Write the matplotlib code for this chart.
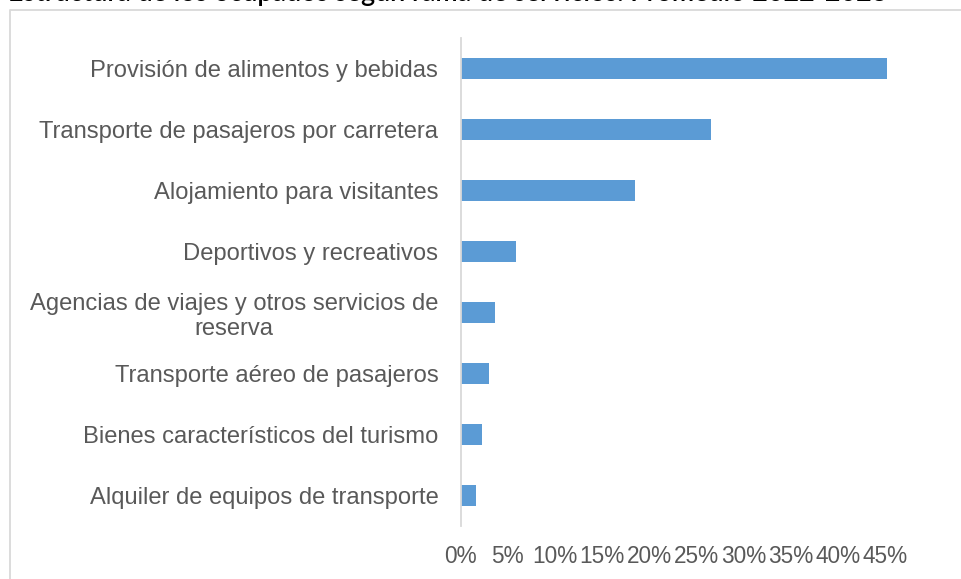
import matplotlib
matplotlib.use("Agg")
import matplotlib.pyplot as plt
from matplotlib.lines import Line2D
from matplotlib.ticker import FuncFormatter

categories = [
    "Provisión de alimentos y bebidas",
    "Transporte de pasajeros por carretera",
    "Alojamiento para visitantes",
    "Deportivos y recreativos",
    "Agencias de viajes y otros servicios de\nreserva",
    "Transporte aéreo de pasajeros",
    "Bienes característicos del turismo",
    "Alquiler de equipos de transporte",
]
values = [0.452, 0.265, 0.185, 0.059, 0.037, 0.030, 0.023, 0.016]
xticks = [0.0, 0.05, 0.10, 0.15, 0.20, 0.25, 0.30, 0.35, 0.40, 0.45]
title = "Estructura de los ocupados según rama de servicios. Promedio 2022-2023"

W, H = 961, 579
fig = plt.figure(figsize=(W / 100, H / 100), dpi=100)
fig.patch.set_facecolor("white")

x0 = 460.5
ppp = 9.444  # pixels per percent
xmax = 0.46
ax_w = xmax * 100 * ppp
ax = fig.add_axes([x0 / W, 1 - 526 / H, ax_w / W, (526 - 38) / H])

ypos = list(range(len(categories)))
ax.barh(ypos, values, height=0.355, color="#5B9BD5", zorder=2)
ax.set_ylim(len(categories) - 0.5, -0.5)
ax.set_xlim(0, xmax)
ax.set_yticks(ypos)
ax.set_yticklabels(categories, fontsize=17.1, color="#595959",
                   family="Liberation Sans", multialignment="center")
ax.set_xticks(xticks)
ax.xaxis.set_major_formatter(FuncFormatter(lambda v, p: f"{v*100:.0f}%"))
for lab in ax.get_xticklabels():
    lab.set_fontsize(16.3)
    lab.set_color("#595959")
    lab.set_family("Liberation Sans")
ax.tick_params(axis="y", length=0, pad=16)
ax.tick_params(axis="x", length=0, pad=13.5)
for s in ["top", "right", "bottom"]:
    ax.spines[s].set_visible(False)
ax.spines["left"].set_color("#d9d9d9")
ax.spines["left"].set_linewidth(1.3)
ax.set_facecolor("none")

# chart frame (cropped)
fig.add_artist(Line2D([10 / W, 10 / W, 1.0], [0.0, 1 - 9.5 / H, 1 - 9.5 / H],
                      transform=fig.transFigure, color="#d9d9d9", lw=1.3))

# title, cropped at top as in the reference
t = fig.text(8 / W, 1 - 1.5 / H, title, ha="left", va="baseline",
             fontsize=20, color="black", family="Lato", weight="semibold")
fig.canvas.draw()
bb = t.get_window_extent()
t.set_fontsize(20 * (877 / bb.width))

fig.savefig("out.png", dpi=100, facecolor="white")
